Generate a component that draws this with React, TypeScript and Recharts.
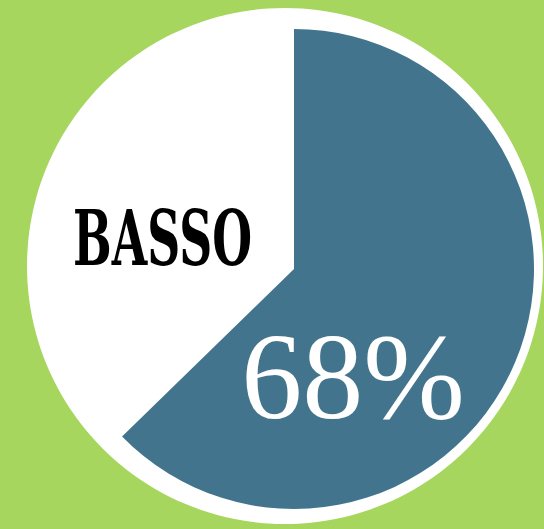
import React from "react";
import { PieChart, Pie, Cell } from "recharts";

// slice names and shares
const segments = ["BASSO", "resto"];
const shares = [68, 32];
const sliceColors = ["#42758d", "transparent"];

// full white disc behind the slices
const discValue = [100];

const chartData = segments.map((name, i) => ({ name, value: shares[i] }));
const discData = discValue.map((value) => ({ name: "disc", value }));

const renderLabel = (props: any) => {
  const { cx, cy, index } = props;
  if (index !== 0) return null;
  return (
    <g>
      <text
        x={cx + 59}
        y={cy + 149}
        textAnchor="middle"
        fill="#ffffff"
        fontFamily="'Liberation Serif', serif"
        fontSize={122}
      >
        {`${shares[0]}%`}
      </text>
      <text
        x={73}
        y={265}
        textLength={179}
        lengthAdjust="spacingAndGlyphs"
        fill="#000000"
        fontFamily="'DejaVu Serif', serif"
        fontWeight="bold"
        fontSize={76}
      >
        {segments[0]}
      </text>
    </g>
  );
};

const App: React.FC = () => {
  return (
    <div
      style={{
        position: "absolute",
        left: 0,
        top: 0,
        width: 544,
        height: 529,
        background: "#a7d65f",
        overflow: "hidden",
      }}
    >
      <PieChart width={544} height={529} margin={{ top: 0, right: 0, bottom: 0, left: 0 }}>
        <Pie
          data={discData}
          dataKey="value"
          cx={285}
          cy={266}
          outerRadius={258}
          startAngle={90}
          endAngle={-270}
          stroke="none"
          fill="#ffffff"
          isAnimationActive={false}
        />
        <Pie
          data={chartData}
          dataKey="value"
          cx={294}
          cy={269}
          outerRadius={240}
          startAngle={90}
          endAngle={-242}
          stroke="none"
          label={renderLabel}
          labelLine={false}
          isAnimationActive={false}
        >
          {chartData.map((d, i) => (
            <Cell key={d.name} fill={sliceColors[i]} />
          ))}
        </Pie>
      </PieChart>
    </div>
  );
};

export default App;
